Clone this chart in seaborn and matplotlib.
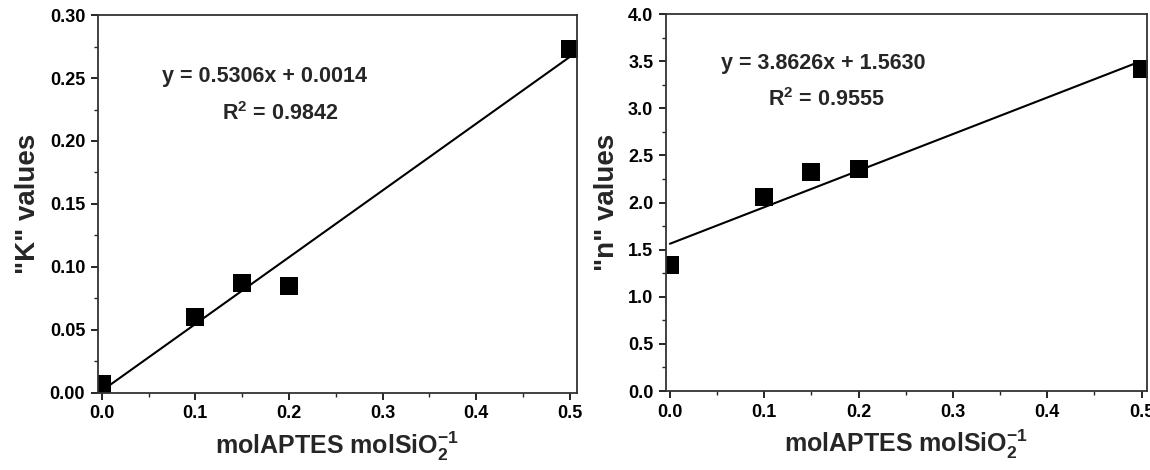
import numpy as np
import pandas as pd
import seaborn as sns
import matplotlib.pyplot as plt
from matplotlib.ticker import MultipleLocator, FormatStrFormatter

# data
aptes = [0.0, 0.1, 0.15, 0.2, 0.5]
k_values = [0.007, 0.060, 0.087, 0.085, 0.273]
n_values = [1.34, 2.06, 2.32, 2.36, 3.42]

k_eq = "y = 0.5306x + 0.0014"
k_r2 = "R$^2$ = 0.9842"
n_eq = "y = 3.8626x + 1.5630"
n_r2 = "R$^2$ = 0.9555"
x_label = "molAPTES molSiO$_2^{-1}$"

sns.set_theme(style="ticks")
plt.rcParams['font.family'] = ['Liberation Sans', 'DejaVu Sans']
plt.rcParams['font.weight'] = 'bold'
plt.rcParams['mathtext.fontset'] = 'custom'
plt.rcParams['mathtext.rm'] = 'Liberation Sans:bold'
plt.rcParams['mathtext.it'] = 'Liberation Sans:bold'
plt.rcParams['mathtext.bf'] = 'Liberation Sans:bold'
plt.rcParams['mathtext.default'] = 'bf'

df = pd.DataFrame({"x": aptes, "K": k_values, "n": n_values})

fig = plt.figure(figsize=(11.5, 4.7), dpi=100)
ax1 = fig.add_axes([0.085, 0.164, 0.4165, 0.804])
ax2 = fig.add_axes([0.579, 0.168, 0.418, 0.802])


def draw(ax, col, ylab, ymax, ymaj, ymin, yfmt, eq, r2, eq_pos, r2_pos, xr):
    sns.regplot(data=df, x="x", y=col, ax=ax, ci=None, marker="s", color="black",
                scatter_kws={"s": 170, "linewidths": 0, "alpha": 1},
                line_kws={"lw": 1.5})
    ax.set_xlim(-0.0043, xr)
    ax.set_ylim(0, ymax)
    ax.xaxis.set_major_locator(MultipleLocator(0.1))
    ax.xaxis.set_minor_locator(MultipleLocator(0.05))
    ax.yaxis.set_major_locator(MultipleLocator(ymaj))
    ax.yaxis.set_minor_locator(MultipleLocator(ymin))
    ax.xaxis.set_major_formatter(FormatStrFormatter("%.1f"))
    ax.yaxis.set_major_formatter(FormatStrFormatter(yfmt))
    ax.tick_params(which="major", direction="out", length=5, width=1.2, labelsize=13,
                   colors="black", pad=4)
    ax.tick_params(which="minor", direction="out", length=3, width=1.0)
    for lab in ax.get_xticklabels() + ax.get_yticklabels():
        lab.set_fontweight("bold")
    for sp in ax.spines.values():
        sp.set_visible(True)
        sp.set_linewidth(1.3)
        sp.set_color("#333333")
    ax.set_xlabel(x_label, fontsize=18, fontweight="bold", labelpad=5)
    ax.set_ylabel(ylab, fontsize=20, fontweight="bold", labelpad=6)
    ax.text(eq_pos[0], eq_pos[1], eq, fontsize=15.5, fontweight="bold", ha="center", va="center")
    ax.text(r2_pos[0], r2_pos[1], r2, fontsize=15.5, fontweight="bold", ha="center", va="center")


draw(ax1, "K", '"K" values', 0.30, 0.05, 0.025, "%.2f", k_eq, k_r2,
     (0.174, 0.251), (0.191, 0.222), 0.5075)
draw(ax2, "n", '"n" values', 4.0, 0.5, 0.25, "%.1f", n_eq, n_r2,
     (0.163, 3.48), (0.166, 3.09), 0.5053)

fig.savefig("out.png", dpi=100)
